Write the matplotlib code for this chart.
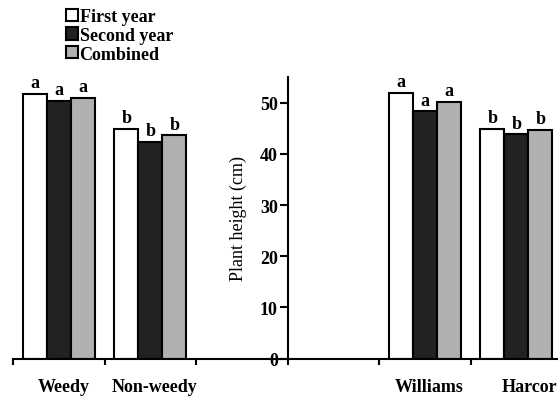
import numpy as np
import matplotlib
matplotlib.use("Agg")
import matplotlib.pyplot as plt
from matplotlib.patches import Patch

plt.rcParams['font.family'] = ['Liberation Serif', 'DejaVu Serif']
plt.rcParams['font.weight'] = 'bold'

groups = ['Weedy', 'Non-weedy', 'Williams', 'Harcor']
slots = [0, 1, 4, 5]  # category slots on the shared x axis
series = ['First year', 'Second year', 'Combined']
first_year = [51.7, 44.9, 51.9, 44.9]
second_year = [50.3, 42.3, 48.3, 43.8]
combined = [50.9, 43.6, 50.1, 44.6]
letters_first = ['a', 'b', 'a', 'b']
letters_second = ['a', 'b', 'a', 'b']
letters_comb = ['a', 'b', 'a', 'b']
colors = ['white', '#222222', '#b0b0b0']

fig = plt.figure(figsize=(5.58, 4.02), dpi=100)
ax = fig.add_axes([13 / 558, 42.3 / 402, 549 / 558, 281.7 / 402])

w = 0.262
centers = np.array(slots) + 0.5
vals = [first_year, second_year, combined]
lets = [letters_first, letters_second, letters_comb]
for i in range(3):
    xs = centers + (i - 1) * w
    ax.bar(xs, vals[i], width=w, color=colors[i], edgecolor='black', linewidth=1.5)
    for x, v, t in zip(xs, vals[i], lets[i]):
        ax.annotate(t, (x, v), xytext=(0, 2), textcoords='offset points',
                    ha='center', va='bottom', fontsize=13, fontweight='bold')

ax.set_xlim(0, 6)
ax.set_ylim(0, 55)
ax.spines['top'].set_visible(False)
ax.spines['right'].set_visible(False)
ax.spines['left'].set_position(('data', 3))
ax.spines['left'].set_linewidth(1.5)
ax.spines['bottom'].set_linewidth(1.5)

ax.set_yticks(range(0, 51, 10))
ax.tick_params(axis='y', direction='out', length=6, width=1.5, labelsize=13, pad=1)
ax.set_xticks(range(0, 7))
ax.set_xticklabels([])
ax.tick_params(axis='x', which='major', direction='out', length=4, width=1.5)
ax.set_xticks(centers + np.array([0.05, 0.05, 0.05, 0.14]), minor=True)
ax.set_xticklabels(groups, minor=True)
ax.tick_params(axis='x', which='minor', length=0, labelsize=13, pad=14)
ax.set_ylabel('Plant height (cm)', fontsize=13, labelpad=9)

handles = [Patch(facecolor=c, edgecolor='black', linewidth=1.5) for c in colors]
fig.legend(handles, series, loc='upper left', bbox_to_anchor=(57 / 558, 1.0),
           frameon=False, handlelength=0.65, handleheight=0.65,
           handletextpad=0.1, labelspacing=0.1, borderaxespad=0.1,
           prop={'weight': 'bold', 'size': 13})

fig.savefig('out.png', dpi=100)
